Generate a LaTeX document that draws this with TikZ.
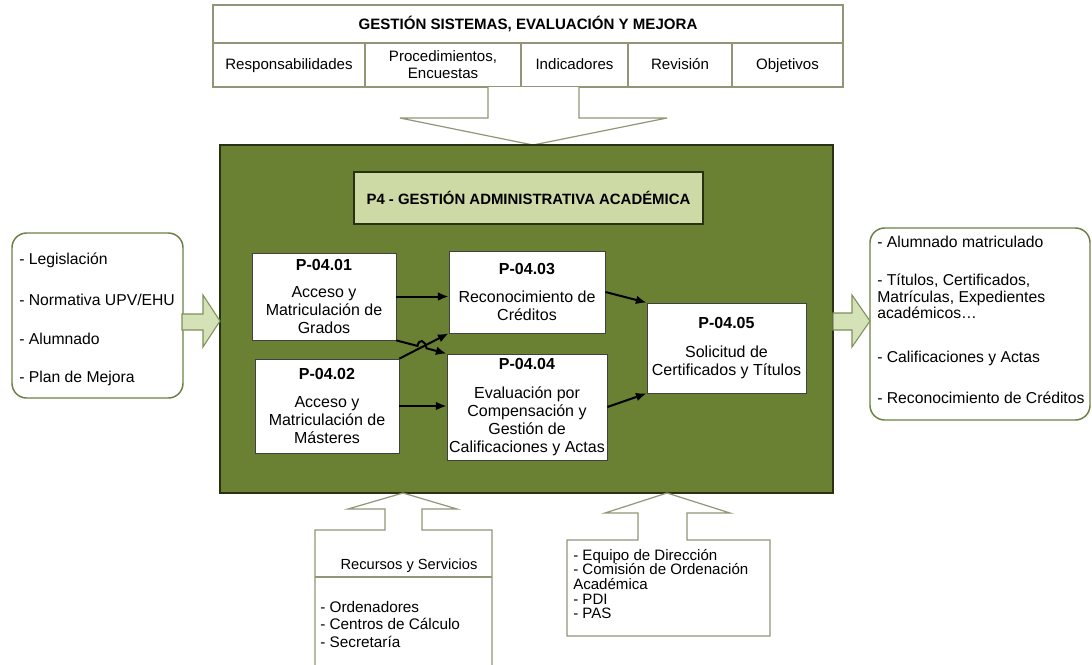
\documentclass[tikz,border=0pt]{standalone}
\usepackage{fontspec}
\setmainfont{Liberation Sans}
\usetikzlibrary{positioning}
\usetikzlibrary{calc}
\usetikzlibrary{arrows.meta}

\newcommand{\pxu}{0.75pt}
\definecolor{procgreen}{RGB}{106,128,50}
\definecolor{procedge}{RGB}{40,50,18}
\definecolor{titlefill}{RGB}{205,218,166}
\definecolor{arrowfill}{RGB}{213,225,182}
\definecolor{arrowedge}{RGB}{125,145,88}
\definecolor{roundedge}{RGB}{108,128,70}
\definecolor{greyedge}{RGB}{145,150,120}

\tikzset{
  cell/.style={draw=greyedge, line width=0.9pt, fill=white, inner sep=0pt, align=center,
    font=\fontsize{11.3}{12.8}\selectfont},
  onecell/.style={cell, text height=8.5pt, text depth=2.5pt},
  hdrcell/.style={cell, font=\bfseries\fontsize{11.3}{13}\selectfont},
  mainbox/.style={draw=procedge, line width=0.8pt, fill=procgreen},
  titlebox/.style={draw=procedge, line width=0.8pt, fill=titlefill, inner sep=0pt,
    font=\bfseries\fontsize{11.2}{13}\selectfont},
  subproc/.style={draw=black!75, line width=0.6pt, fill=white, inner sep=0pt, align=center,
    font=\fontsize{12}{13.5}\selectfont},
  roundbox/.style={draw=roundedge, line width=1.1pt, fill=white, rounded corners=11pt},
  listtext/.style={inner sep=0pt, align=left, anchor=west},
  sidearrow/.style={draw=arrowedge, line width=0.8pt, fill=arrowfill, line join=miter},
  hollowarrow/.style={draw=greyedge, line width=0.9pt, fill=white},
  flow/.style={-{Latex[length=8pt,width=6.5pt]}, line width=1.5pt, black}
}

\begin{document}
\begin{tikzpicture}[x=0.75pt, y=-0.75pt]

\clip (0,0) rectangle (1092,664);
\fill[white] (0,0) rectangle (1092,664);

\node[hdrcell, minimum width=630*\pxu, minimum height=38*\pxu] (sgtitle) at (528,24)
{GESTIÓN SISTEMAS, EVALUACIÓN Y MEJORA};
\node[onecell, minimum width=152*\pxu, minimum height=44*\pxu] (resp) at (289,65) {Responsabilidades};
\node[cell, minimum width=156*\pxu, minimum height=44*\pxu] (proc) at (443,65) {Procedimientos,\\Encuestas};
\node[onecell, minimum width=107*\pxu, minimum height=44*\pxu] (indi) at (574.5,65) {Indicadores};
\node[onecell, minimum width=104*\pxu, minimum height=44*\pxu] (revi) at (680,65) {Revisión};
\node[onecell, minimum width=111*\pxu, minimum height=44*\pxu] (obje) at (787.5,65) {Objetivos};

\draw[hollowarrow] (488,87) -- (488,118) -- (400,118) -- (533,145) -- (667,118) -- (579,118) -- (579,87);

\node[mainbox, minimum width=613*\pxu, minimum height=348*\pxu] (p4box) at (526.5,319) {};
\node[titlebox, minimum width=349*\pxu, minimum height=52*\pxu] (p4title) at (528.5,198)
{P4 - GESTIÓN ADMINISTRATIVA ACADÉMICA};

\node[subproc, minimum width=144*\pxu, minimum height=87*\pxu] (p01) at (324,296.5)
{\textbf{P-04.01}\\[7pt]Acceso y\\Matriculación de\\Grados};
\node[subproc, minimum width=144*\pxu, minimum height=94*\pxu] (p02) at (327,406)
{\textbf{P-04.02}\\[8pt]Acceso y\\Matriculación de\\Másteres};
\node[subproc, minimum width=156*\pxu, minimum height=82*\pxu] (p03) at (527,292)
{\textbf{P-04.03}\\[8pt]Reconocimiento de\\Créditos};
\node[subproc, minimum width=160*\pxu, minimum height=106*\pxu] (p04) at (527,407)
{\textbf{P-04.04}\\[8pt]Evaluación por\\Compensación y\\Gestión de\\Calificaciones y Actas};
\node[subproc, minimum width=159*\pxu, minimum height=90*\pxu] (p05) at (726.5,348)
{\textbf{P-04.05}\\[8pt]Solicitud de\\Certificados y Títulos};

\draw[flow] (p01.east) -- (p01.east -| p03.west);
\draw[flow] (p02.east) -- (p02.east -| p04.west);
\draw[flow] (p02.north east) -- (p03.south west);
\draw[flow] (p01.south east) -- ($(p01.south east)!0.42!(p04.north west)$)
  .. controls ($(p01.south east)!0.45!(p04.north west)+(0,-8)$) and ($(p01.south east)!0.57!(p04.north west)+(0,-8)$)
  .. ($(p01.south east)!0.6!(p04.north west)$) -- (p04.north west);
\draw[flow] (p03.east) -- (p05.north west);
\draw[flow] (p04.east) -- (p05.south west);

\node[roundbox, minimum width=171*\pxu, minimum height=165*\pxu] (inbox) at (97.5,315.5) {};
\node[listtext, font=\fontsize{11.8}{13}\selectfont] (in1) at (19,260) {- Legislación};
\node[listtext, font=\fontsize{11.8}{13}\selectfont] (in2) at (19,300) {- Normativa UPV/EHU};
\node[listtext, font=\fontsize{11.8}{13}\selectfont] (in3) at (19,339) {- Alumnado};
\node[listtext, font=\fontsize{11.8}{13}\selectfont] (in4) at (19,378) {- Plan de Mejora};

\draw[sidearrow] (182,314) -- (203,314) -- (203,295) -- (220,321) -- (203,347) -- (203,330) -- (182,330) -- cycle;

\node[roundbox, minimum width=220*\pxu, minimum height=192*\pxu] (outbox) at (980,324) {};
\node[listtext, font=\fontsize{11.8}{12.4}\selectfont] (out1) at (877,242) {- Alumnado matriculado};
\node[listtext, font=\fontsize{11.8}{12.4}\selectfont] (out2) at (877,296.5)
{- Títulos, Certificados,\\Matrículas, Expedientes\\académicos…};
\node[listtext, font=\fontsize{11.8}{12.4}\selectfont] (out3) at (877,358) {- Calificaciones y Actas};
\node[listtext, font=\fontsize{11.8}{12.4}\selectfont] (out4) at (877,398) {- Reconocimiento de Créditos};

\draw[sidearrow] (833,313) -- (852,313) -- (852,295) -- (870,321) -- (852,347) -- (852,330) -- (833,330) -- cycle;

\draw[hollowarrow] (315,670) -- (315,530) -- (385,530) -- (385,509) -- (348,509) -- (403,493)
  -- (457,509) -- (422,509) -- (422,530) -- (492,530) -- (492,670);
\draw[hollowarrow] (315,577) -- (492,577);
\node[inner sep=0pt, font=\fontsize{11}{13}\selectfont] (rectitle) at (409,566) {Recursos y Servicios};
\node[listtext, font=\fontsize{11.5}{13.1}\selectfont] (reslist) at (320,624.5)
{- Ordenadores\\- Centros de Cálculo\\- Secretaría};

\draw[hollowarrow] (567,636) -- (567,540) -- (638,540) -- (638,513) -- (605,513) -- (667,493)
  -- (730,513) -- (687,513) -- (687,540) -- (770,540) -- (770,636) -- cycle;
\node[listtext, font=\fontsize{11.3}{10.9}\selectfont] (staff) at (573,584)
{- Equipo de Dirección\\- Comisión de Ordenación\\Académica\\- PDI\\- PAS};

\end{tikzpicture}
\end{document}
